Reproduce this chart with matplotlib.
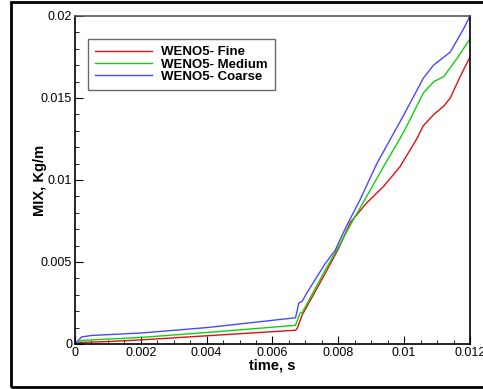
import matplotlib
matplotlib.use("Agg")
import matplotlib.pyplot as plt
from matplotlib.patches import Rectangle
from matplotlib.ticker import MultipleLocator

plt.rcParams['font.family'] = ['Liberation Sans', 'DejaVu Sans']

# time in s, MIX in Kg/m
t_fine = [0.0, 0.0002, 0.001, 0.002, 0.004, 0.0067, 0.00675, 0.0069, 0.0076, 0.008,
          0.00836, 0.00886, 0.00937, 0.00987, 0.01038, 0.01058, 0.0109, 0.0112,
          0.0114, 0.0117, 0.012]
mix_fine = [0.0, 0.0001, 0.00015, 0.00025, 0.0005, 0.00084, 0.00094, 0.00176, 0.0043, 0.0058,
            0.0074, 0.0086, 0.0096, 0.0108, 0.0125, 0.0133, 0.0140, 0.0145,
            0.0150, 0.0163, 0.0175]

t_medium = [0.0, 0.0002, 0.001, 0.002, 0.004, 0.0067, 0.00684, 0.0069, 0.0076, 0.008,
            0.00846, 0.00886, 0.00937, 0.00998, 0.01058, 0.0109, 0.0112,
            0.0116, 0.012]
mix_medium = [0.0, 0.00022, 0.0003, 0.0004, 0.0007, 0.00114, 0.0019, 0.0019, 0.0045, 0.0059,
              0.0076, 0.0090, 0.0108, 0.0129, 0.0153, 0.0160, 0.0163,
              0.0174, 0.0186]

t_coarse = [0.0, 0.0002, 0.0005, 0.002, 0.004, 0.0067, 0.0068, 0.0069, 0.00704, 0.0076,
            0.0079, 0.00825, 0.00866, 0.00917, 0.00997, 0.01058, 0.01089,
            0.0114, 0.0118, 0.012]
mix_coarse = [0.0, 0.00043, 0.00052, 0.00067, 0.001, 0.0016, 0.0025, 0.0026, 0.0031, 0.0049,
              0.0057, 0.0072, 0.0088, 0.0110, 0.0139, 0.0162, 0.0170,
              0.0178, 0.0192, 0.0200]

fig = plt.figure(figsize=(4.83, 3.89), dpi=100)
ax = fig.add_axes([75 / 483, 1 - 344 / 389, 395 / 483, 328 / 389])

ax.plot(t_fine, mix_fine, color="#e01010", lw=1.0, label="WENO5- Fine")
ax.plot(t_medium, mix_medium, color="#10d010", lw=1.0, label="WENO5- Medium")
ax.plot(t_coarse, mix_coarse, color="#4848ff", lw=1.0, label="WENO5- Coarse")

ax.set_xlim(0, 0.012)
ax.set_ylim(0, 0.02)
ax.xaxis.set_minor_locator(MultipleLocator(0.0005))
ax.yaxis.set_minor_locator(MultipleLocator(0.001))
ax.set_xticks([0, 0.002, 0.004, 0.006, 0.008, 0.01, 0.012])
ax.set_xticklabels(["0", "0.002", "0.004", "0.006", "0.008", "0.01", "0.012"])
ax.set_yticks([0, 0.005, 0.01, 0.015, 0.02])
ax.set_yticklabels(["0", "0.005", "0.01", "0.015", "0.02"])
ax.tick_params(which="both", direction="in", top=False, right=False, labelsize=9, pad=2)
ax.tick_params(which="major", length=6)
ax.tick_params(which="minor", length=3)
for s in ax.spines.values():
    s.set_linewidth(1.2)
ax.spines["top"].set_color("#555555")

ax.set_xlabel("time, s", fontsize=10.5, fontweight="bold", labelpad=0)
ax.set_ylabel("MIX, Kg/m", fontsize=10.5, fontweight="bold")
ax.yaxis.set_label_coords(-0.07, 0.5)

leg = ax.legend(loc="upper left", bbox_to_anchor=(0.033, 0.93), borderaxespad=0,
                prop={"weight": "bold", "size": 9.5}, frameon=True, fancybox=False,
                handlelength=4.3, handletextpad=0.68, labelspacing=0.0,
                borderpad=0.55)
leg.get_frame().set_edgecolor("#444444")
leg.get_frame().set_linewidth(1.0)

# outer border, right edge runs past the image
fig.patches.append(Rectangle((11 / 483, 2 / 389), 480 / 483, 385 / 389,
                             transform=fig.transFigure, fill=False,
                             edgecolor="black", linewidth=2))

fig.savefig("out.png", dpi=100)
